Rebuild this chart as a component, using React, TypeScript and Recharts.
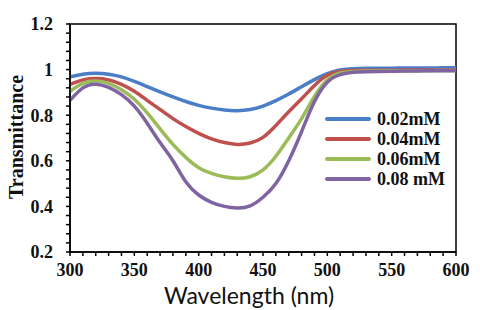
import { LineChart, Line, XAxis, YAxis, ReferenceArea } from "recharts";

const wavelengths = [
  300, 310, 320, 330, 340, 350, 360, 370, 380, 390, 400, 410, 420, 430, 440, 450,
  460, 470, 480, 490, 500, 510, 520, 530, 540, 550, 560, 570, 580, 590, 600,
];

const conc002 = [
  0.968, 0.98, 0.984, 0.98, 0.968, 0.948, 0.925, 0.902, 0.88, 0.86, 0.843, 0.831,
  0.823, 0.82, 0.825, 0.84, 0.864, 0.893, 0.925, 0.956, 0.982, 0.998, 1.004,
  1.006, 1.006, 1.006, 1.007, 1.007, 1.007, 1.008, 1.008,
];
const conc004 = [
  0.935, 0.955, 0.961, 0.955, 0.935, 0.905, 0.865, 0.825, 0.785, 0.75, 0.72,
  0.696, 0.68, 0.672, 0.678, 0.703, 0.755, 0.815, 0.872, 0.93, 0.975, 0.992,
  0.996, 0.997, 0.997, 0.997, 0.998, 0.998, 0.998, 0.998, 0.998,
];
const conc006 = [
  0.905, 0.94, 0.95, 0.94, 0.912, 0.87, 0.81, 0.74, 0.672, 0.615, 0.57, 0.545,
  0.53, 0.523, 0.53, 0.56, 0.62, 0.7, 0.785, 0.882, 0.955, 0.985, 0.992, 0.994,
  0.994, 0.995, 0.995, 0.995, 0.995, 0.996, 0.996,
];
const conc008 = [
  0.865, 0.92, 0.936, 0.922, 0.89, 0.84, 0.765, 0.68, 0.6, 0.508, 0.45, 0.418,
  0.4, 0.393, 0.402, 0.44, 0.5, 0.6, 0.728, 0.86, 0.945, 0.978, 0.988, 0.991,
  0.992, 0.993, 0.994, 0.994, 0.995, 0.995, 0.995,
];

const xTicks = [
  300, 310, 320, 330, 340, 350, 360, 370, 380, 390, 400, 410, 420, 430, 440, 450,
  460, 470, 480, 490, 500, 510, 520, 530, 540, 550, 560, 570, 580, 590, 600,
];
const xMajor = [300, 350, 400, 450, 500, 550, 600];

const yTicks = [
  0.2, 0.24, 0.28, 0.32, 0.36, 0.4, 0.44, 0.48, 0.52, 0.56, 0.6, 0.64, 0.68, 0.72,
  0.76, 0.8, 0.84, 0.88, 0.92, 0.96, 1.0, 1.04, 1.08, 1.12, 1.16, 1.2,
];
const yMajor = [0.2, 0.4, 0.6, 0.8, 1.0, 1.2];

const seriesNames = ["0.02mM", "0.04mM", "0.06mM", "0.08 mM"];
const seriesColors = ["#4a7ec7", "#c0504d", "#9bbb59", "#8064a2"];

const rows = wavelengths.map((w, i) => ({
  w,
  s1: conc002[i],
  s2: conc004[i],
  s3: conc006[i],
  s4: conc008[i],
}));

const serif = "'Liberation Serif', 'Times New Roman', serif";

function isMajor(list: number[], v: number) {
  return list.some((m) => Math.abs(m - v) < 1e-6);
}

function LegendBox() {
  return (
    <div
      style={{
        position: "absolute",
        left: 325,
        top: 109,
        fontFamily: serif,
        fontWeight: "bold",
        fontSize: 18,
      }}
    >
      {seriesNames.map((n, i) => (
        <div
          key={n}
          style={{ display: "flex", alignItems: "center", height: 20, color: "#111" }}
        >
          <span
            style={{
              display: "inline-block",
              width: 46,
              height: 4,
              borderRadius: 2,
              background: seriesColors[i],
              marginRight: 6,
            }}
          />
          {n}
        </div>
      ))}
    </div>
  );
}

function YTitle() {
  return (
    <text
      x={0}
      y={0}
      transform="translate(16,137) rotate(-90)"
      textAnchor="middle"
      dominantBaseline="central"
      fontFamily={serif}
      fontWeight="bold"
      fontSize={20}
      fill="#111"
    >
      Transmittance
    </text>
  );
}

function XTitle() {
  return (
    <text
      x={249}
      y={304}
      textAnchor="middle"
      fontFamily="Lato, 'Open Sans', sans-serif"
      fontSize={23}
      fill="#111"
    >
      Wavelength (nm)
    </text>
  );
}

export default function App() {
  return (
    <div style={{ position: "absolute", left: 0, top: 0, width: 480, height: 310, background: "#fff" }}>
      <LineChart
        width={480}
        height={310}
        data={rows}
        margin={{ top: 24, right: 24, bottom: 0, left: 0 }}
      >
        <ReferenceArea
          x1={300}
          x2={600}
          y1={0.2}
          y2={1.2}
          fill="none"
          fillOpacity={0}
          stroke="#000"
          strokeWidth={1.5}
          strokeOpacity={1}
          ifOverflow="visible"
        />
        <XAxis
          dataKey="w"
          type="number"
          domain={[300, 600]}
          ticks={xTicks}
          interval={0}
          height={58}
          stroke="#000"
          strokeWidth={1.5}
          tickSize={4}
          tickMargin={7}
          tick={{ fontFamily: serif, fontWeight: "bold", fontSize: 18, fill: "#111" }}
          tickFormatter={(v: number) => (isMajor(xMajor, v) ? String(v) : "")}
          label={<XTitle />}
        />
        <YAxis
          type="number"
          domain={[0.2, 1.2]}
          ticks={yTicks}
          interval={0}
          width={70}
          stroke="#000"
          strokeWidth={1.5}
          tickSize={4}
          tickMargin={13}
          tick={{ fontFamily: serif, fontWeight: "bold", fontSize: 18, fill: "#111" }}
          tickFormatter={(v: number) =>
            isMajor(yMajor, v) ? (Math.abs(v - 1) < 1e-6 ? "1" : v.toFixed(1)) : ""
          }
          label={<YTitle />}
        />
        {["s1", "s2", "s3", "s4"].map((k, i) => (
          <Line
            key={k}
            dataKey={k}
            name={seriesNames[i]}
            type="natural"
            stroke={seriesColors[i]}
            strokeWidth={3.5}
            dot={false}
            isAnimationActive={false}
          />
        ))}
      </LineChart>
      <LegendBox />
    </div>
  );
}
